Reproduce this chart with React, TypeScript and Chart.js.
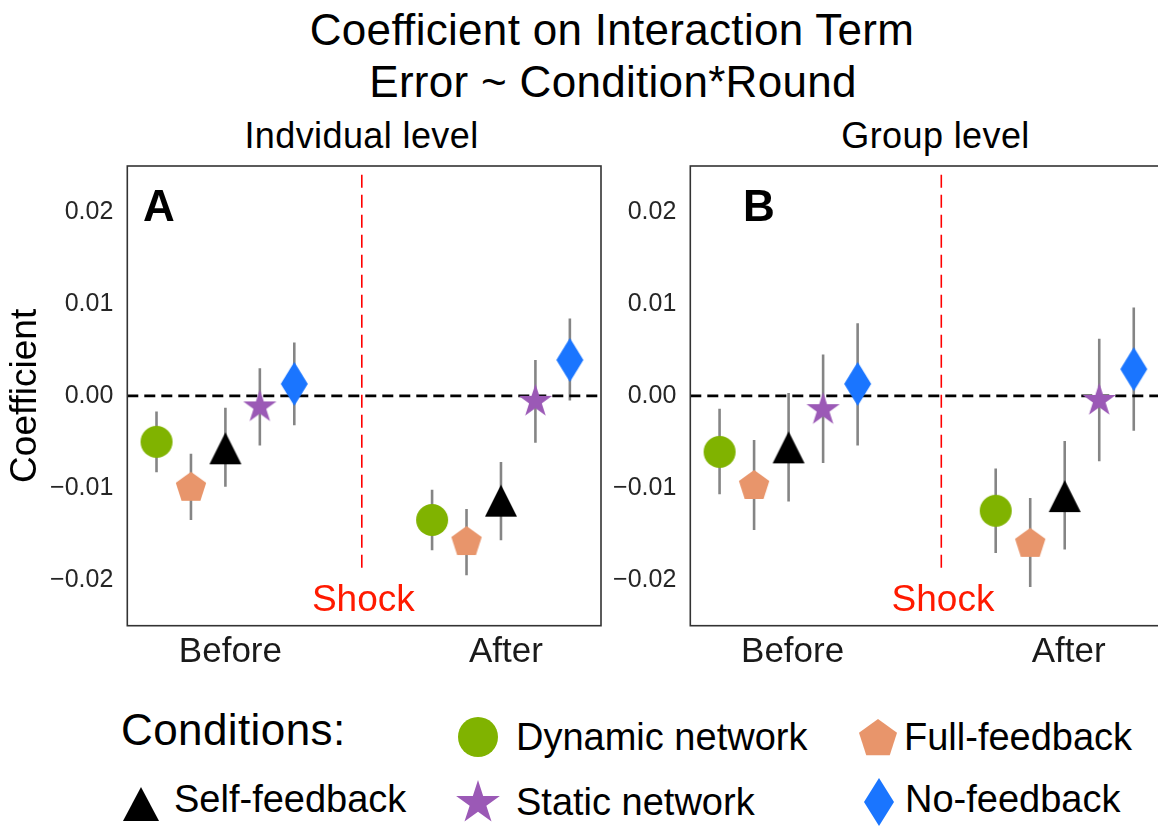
import React, { useEffect, useRef } from 'react';
import { Chart, registerables } from 'chart.js';

Chart.register(...registerables);

const FONT = "'Liberation Sans', Arial, Helvetica, sans-serif";

// ---- data ----
const periods = ['Before', 'After'];
const conditions = ['Dynamic network', 'Full-feedback', 'Self-feedback', 'Static network', 'No-feedback'];
const condColors = ['#80b300', '#e8956b', '#000000', '#9b59b6', '#1a75ff'];
const condShapes = ['circle', 'pentagon', 'triangle', 'star', 'diamond'];
const yTicks = [-0.02, -0.01, 0.0, 0.01, 0.02];

// Individual level (panel A): [Before, After] per condition
const indivCoef = [
  [-0.0050, -0.0135],
  [-0.0100, -0.0159],
  [-0.0057, -0.0114],
  [-0.0012, -0.0006],
  [0.0013, 0.0039],
];
const indivLow = [
  [-0.0083, -0.0168],
  [-0.0135, -0.0195],
  [-0.0099, -0.0157],
  [-0.0054, -0.0051],
  [-0.0032, -0.0005],
];
const indivHigh = [
  [-0.0017, -0.0102],
  [-0.0063, -0.0123],
  [-0.0013, -0.0072],
  [0.0030, 0.0039],
  [0.0058, 0.0084],
];

// Group level (panel B)
const groupCoef = [
  [-0.0061, -0.0125],
  [-0.0098, -0.0161],
  [-0.0056, -0.0109],
  [-0.0015, -0.0005],
  [0.0013, 0.0029],
];
const groupLow = [
  [-0.0107, -0.0171],
  [-0.0146, -0.0208],
  [-0.0115, -0.0167],
  [-0.0073, -0.0071],
  [-0.0054, -0.0038],
];
const groupHigh = [
  [-0.0014, -0.0079],
  [-0.0048, -0.0111],
  [0.0003, -0.0049],
  [0.0045, 0.0062],
  [0.0079, 0.0096],
];

const DODGE = 0.125;

// ---- marker shapes ----
function drawShape(ctx: CanvasRenderingContext2D, shape: string, cx: number, cy: number, a: number, b: number) {
  ctx.beginPath();
  if (shape === 'circle') {
    ctx.arc(cx, cy, a, 0, Math.PI * 2);
  } else if (shape === 'triangle') {
    ctx.moveTo(cx, cy - b / 2);
    ctx.lineTo(cx + a / 2, cy + b / 2);
    ctx.lineTo(cx - a / 2, cy + b / 2);
  } else if (shape === 'pentagon') {
    for (let k = 0; k < 5; k++) {
      const ang = -Math.PI / 2 + (k * 2 * Math.PI) / 5;
      const px = cx + a * Math.cos(ang);
      const py = cy + a * Math.sin(ang);
      if (k === 0) ctx.moveTo(px, py); else ctx.lineTo(px, py);
    }
  } else if (shape === 'star') {
    const inner = a * 0.381966;
    for (let k = 0; k < 10; k++) {
      const ang = -Math.PI / 2 + (k * Math.PI) / 5;
      const r = k % 2 === 0 ? a : inner;
      const px = cx + r * Math.cos(ang);
      const py = cy + r * Math.sin(ang);
      if (k === 0) ctx.moveTo(px, py); else ctx.lineTo(px, py);
    }
  } else if (shape === 'diamond') {
    ctx.moveTo(cx, cy - b / 2);
    ctx.lineTo(cx + a / 2, cy);
    ctx.lineTo(cx, cy + b / 2);
    ctx.lineTo(cx - a / 2, cy);
  }
  ctx.closePath();
  ctx.fill();
}

function shapeBox(shape: string, a: number, b: number) {
  if (shape === 'circle' || shape === 'pentagon' || shape === 'star') {
    const s = Math.ceil(2 * a) + 4;
    return [s, s];
  }
  return [Math.ceil(a) + 4, Math.ceil(b) + 4];
}

function makeMarker(shape: string, color: string, a: number, b: number) {
  const [w, h] = shapeBox(shape, a, b);
  const c = document.createElement('canvas');
  c.width = w;
  c.height = h;
  const ctx = c.getContext('2d')!;
  ctx.fillStyle = color;
  drawShape(ctx, shape, w / 2, h / 2, a, b);
  return c;
}

const plotMarkerSize: Record<string, [number, number]> = {
  circle: [16, 0],
  pentagon: [16, 0],
  triangle: [32, 32],
  star: [17.5, 0],
  diamond: [27, 44],
};
const legendMarkerSize: Record<string, [number, number]> = {
  circle: [20, 0],
  pentagon: [20, 0],
  triangle: [36, 34],
  star: [23, 0],
  diamond: [30, 48],
};

const fmtTick = (v: number) => {
  const s = Math.abs(v).toFixed(2);
  return v < -1e-9 ? '\u2212' + s : s;
};

const framePlugin = {
  id: 'frame',
  afterDraw(chart: any) {
    const { ctx, chartArea } = chart;
    ctx.save();
    ctx.strokeStyle = '#333333';
    ctx.lineWidth = 1.6;
    ctx.strokeRect(chartArea.left, chartArea.top, chartArea.right - chartArea.left, chartArea.bottom - chartArea.top);
    ctx.restore();
  },
};

type PanelProps = {
  coef: number[][];
  low: number[][];
  high: number[][];
  xMin: number;
  xMax: number;
  shockX: number;
  shockRange: number[];
  yTitle: string | null;
  left: number;
  top: number;
  width: number;
  height: number;
  padTop: number;
  padRight: number;
  yAxisWidth: number;
  xAxisHeight: number;
  labelOffset: number;
};

function Panel(p: PanelProps) {
  const ref = useRef<HTMLCanvasElement>(null);
  useEffect(() => {
    const datasets: any[] = [];
    conditions.forEach((cond, i) => {
      const off = (i - (conditions.length - 1) / 2) * DODGE;
      const err: any[] = [];
      periods.forEach((_, j) => {
        err.push({ x: j + off, y: p.low[i][j] });
        err.push({ x: j + off, y: p.high[i][j] });
        err.push({ x: j + off, y: null });
      });
      datasets.push({
        type: 'line',
        label: cond + ' CI',
        data: err,
        borderColor: '#858585',
        borderWidth: 2.6,
        pointRadius: 0,
        spanGaps: false,
        order: 4,
      });
      const sz = plotMarkerSize[condShapes[i]];
      datasets.push({
        type: 'scatter',
        label: cond,
        data: periods.map((_, j) => ({ x: j + off, y: p.coef[i][j] })),
        pointStyle: makeMarker(condShapes[i], condColors[i], sz[0], sz[1]),
        pointRadius: 16,
        backgroundColor: condColors[i],
        borderColor: condColors[i],
        order: 1,
      });
    });
    datasets.push({
      type: 'line',
      label: 'zero',
      data: [{ x: p.xMin, y: 0 }, { x: p.xMax, y: 0 }],
      borderColor: '#000000',
      borderWidth: 2.6,
      borderDash: [11, 6],
      pointRadius: 0,
      order: 3,
    });
    datasets.push({
      type: 'line',
      label: 'shock',
      data: [{ x: p.shockX, y: p.shockRange[0] }, { x: p.shockX, y: p.shockRange[1] }],
      borderColor: '#ff0000',
      borderWidth: 1.6,
      borderDash: [13, 7],
      pointRadius: 0,
      order: 2,
    });

    const chart = new Chart(ref.current!, {
      type: 'scatter',
      data: { datasets },
      options: {
        animation: false,
        responsive: false,
        events: [],
        layout: { padding: { top: p.padTop, right: p.padRight, left: 0, bottom: 0 } },
        plugins: { legend: { display: false }, tooltip: { enabled: false }, title: { display: false } },
        scales: {
          x: {
            type: 'linear',
            min: p.xMin,
            max: p.xMax,
            afterBuildTicks: (s: any) => {
              s.ticks = periods.map((_, j) => ({ value: j }));
            },
            afterFit: (s: any) => {
              s.height = p.xAxisHeight;
            },
            ticks: {
              callback: (v: any) => periods[Math.round(Number(v))] ?? '',
              font: { family: FONT, size: 35 },
              color: '#1a1a1a',
              padding: 6,
              maxRotation: 0,
              autoSkip: false,
              labelOffset: p.labelOffset,
            },
            grid: { display: false, drawTicks: false },
            border: { display: false },
          },
          y: {
            type: 'linear',
            min: -0.025,
            max: 0.025,
            afterBuildTicks: (s: any) => {
              s.ticks = yTicks.map((v) => ({ value: v }));
            },
            afterFit: (s: any) => {
              s.width = p.yAxisWidth;
            },
            ticks: {
              callback: (v: any) => fmtTick(Number(v)),
              font: { family: FONT, size: 25 },
              color: '#262626',
              padding: 14,
              autoSkip: false,
            },
            grid: { display: false, drawTicks: false },
            border: { display: false },
            title: {
              display: !!p.yTitle,
              text: p.yTitle || '',
              font: { family: FONT, size: 37 },
              color: '#000000',
              padding: { top: 4, bottom: 0 },
            },
          },
        },
      },
      plugins: [framePlugin],
    } as any);
    return () => chart.destroy();
  }, []);
  return (
    <canvas
      ref={ref}
      width={p.width}
      height={p.height}
      style={{ position: 'absolute', left: p.left, top: p.top, width: p.width, height: p.height }}
    />
  );
}

function LegendMarker({ shape, color, cx, cy }: { shape: string; color: string; cx: number; cy: number }) {
  const ref = useRef<HTMLCanvasElement>(null);
  const sz = legendMarkerSize[shape];
  const [w, h] = shapeBox(shape, sz[0], sz[1]);
  useEffect(() => {
    const ctx = ref.current!.getContext('2d')!;
    ctx.clearRect(0, 0, w, h);
    ctx.fillStyle = color;
    drawShape(ctx, shape, w / 2, h / 2, sz[0], sz[1]);
  }, []);
  return (
    <canvas
      ref={ref}
      width={w}
      height={h}
      style={{ position: 'absolute', left: cx - w / 2, top: cy - h / 2, width: w, height: h }}
    />
  );
}

function Txt({
  children, left, baseline, size, center, bold, color, ls,
}: {
  children: React.ReactNode; left: number; baseline: number; size: number; center?: boolean; bold?: boolean; color?: string; ls?: number;
}) {
  const top = baseline - 0.8465 * size;
  const style: React.CSSProperties = {
    position: 'absolute',
    top,
    fontFamily: FONT,
    fontSize: size,
    lineHeight: `${size}px`,
    fontWeight: bold ? 'bold' : 'normal',
    color: color || '#000',
    whiteSpace: 'nowrap',
    letterSpacing: ls ? `${ls}px` : undefined,
  };
  if (center) {
    style.left = left - 500;
    style.width = 1000;
    style.textAlign = 'center';
  } else {
    style.left = left;
  }
  return <div style={style}>{children}</div>;
}

const legendLayout = [
  { i: 0, cx: 478, cy: 737, tx: 516, tb: 750 },
  { i: 1, cx: 878, cy: 739, tx: 904, tb: 750 },
  { i: 2, cx: 140.5, cy: 803.5, tx: 174, tb: 812 },
  { i: 3, cx: 478, cy: 803, tx: 516, tb: 815 },
  { i: 4, cx: 879, cy: 802, tx: 905, tb: 812 },
];

export default function App() {
  return (
    <div
      style={{
        position: 'absolute', left: 0, top: 0, width: 1158, height: 827,
        overflow: 'hidden', background: '#ffffff',
      }}
    >
      <Txt left={612} baseline={45} size={44} center ls={0.3}>Coefficient on Interaction Term</Txt>
      <Txt left={613} baseline={97} size={44} center ls={0.3}>Error ~ Condition*Round</Txt>
      <Txt left={361.5} baseline={148.5} size={36} center ls={0.4}>Indvidual level</Txt>
      <Txt left={935.5} baseline={148.5} size={36} center ls={0.4}>Group level</Txt>

      <Panel
        coef={indivCoef} low={indivLow} high={indivHigh}
        xMin={-0.356} xMax={1.363} shockX={0.495} shockRange={[-0.0187, 0.0243]}
        yTitle="Coefficient"
        left={0} top={100} width={640} height={600}
        padTop={66} padRight={39} yAxisWidth={127.3} xAxisHeight={74.3}
        labelOffset={5}
      />
      <Panel
        coef={groupCoef} low={groupLow} high={groupHigh}
        xMin={-0.356} xMax={1.416} shockX={0.553} shockRange={[-0.0187, 0.0243]}
        yTitle={null}
        left={563.4} top={100} width={640} height={600}
        padTop={66} padRight={23.4} yAxisWidth={127.3} xAxisHeight={74.3}
        labelOffset={4}
      />

      <Txt left={143} baseline={221} size={44} bold>A</Txt>
      <Txt left={743} baseline={221} size={44} bold>B</Txt>
      <Txt left={363.3} baseline={611.7} size={37} center color="#ff1a00">Shock</Txt>
      <Txt left={943} baseline={611.7} size={37} center color="#ff1a00">Shock</Txt>

      <Txt left={121} baseline={745.7} size={44} ls={0.4}>Conditions:</Txt>
      {legendLayout.map((l) => (
        <React.Fragment key={l.i}>
          <LegendMarker shape={condShapes[l.i]} color={condColors[l.i]} cx={l.cx} cy={l.cy} />
          <Txt left={l.tx} baseline={l.tb} size={38}>{conditions[l.i]}</Txt>
        </React.Fragment>
      ))}
    </div>
  );
}
